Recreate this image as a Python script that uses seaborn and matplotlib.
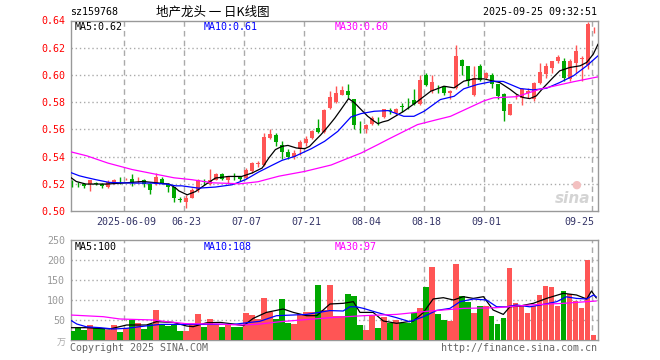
import numpy as np
import pandas as pd
import matplotlib
matplotlib.use("Agg")
import matplotlib.pyplot as plt
import seaborn as sns

# ---------------- data ----------------
dates = pd.bdate_range("2025-05-26", "2025-09-25")
dates = dates[dates != pd.Timestamp("2025-06-02")]

opens = [0.5200, 0.5197, 0.5200, 0.5200, 0.5203, 0.5200, 0.5178, 0.5203, 0.5222, 0.5234,
         0.5232, 0.5233, 0.5225, 0.5200, 0.5195, 0.5237, 0.5200, 0.5173, 0.5083, 0.5064,
         0.5099, 0.5156, 0.5218, 0.5200, 0.5230, 0.5274, 0.5230, 0.5255, 0.5254, 0.5242,
         0.5291, 0.5346, 0.5341, 0.5538, 0.5556, 0.5483, 0.5434, 0.5400, 0.5455, 0.5498,
         0.5534, 0.5607, 0.5580, 0.5759, 0.5798, 0.5856, 0.5881, 0.5820, 0.5602, 0.5605,
         0.5637, 0.5662, 0.5693, 0.5737, 0.5723, 0.5769, 0.5775, 0.5819, 0.5785, 0.6002,
         0.5879, 0.5910, 0.5909, 0.5867, 0.5904, 0.6109, 0.6064, 0.5854, 0.6064, 0.5978,
         0.5998, 0.5931, 0.5857, 0.5709, 0.5843, 0.5832, 0.5869, 0.5820, 0.5943, 0.6010,
         0.6049, 0.6099, 0.6104, 0.5968, 0.6090, 0.6114, 0.6070, 0.6328]
highs = [0.5225, 0.5210, 0.5205, 0.5230, 0.5210, 0.5205, 0.5225, 0.5232, 0.5252, 0.5245,
         0.5274, 0.5250, 0.5232, 0.5205, 0.5280, 0.5250, 0.5205, 0.5175, 0.5106, 0.5119,
         0.5168, 0.5235, 0.5237, 0.5310, 0.5280, 0.5280, 0.5260, 0.5280, 0.5260, 0.5316,
         0.5358, 0.5365, 0.5575, 0.5600, 0.5575, 0.5512, 0.5459, 0.5450, 0.5520, 0.5551,
         0.5593, 0.5673, 0.5746, 0.5881, 0.5917, 0.5917, 0.5937, 0.5824, 0.5661, 0.5637,
         0.5698, 0.5693, 0.5751, 0.5755, 0.5755, 0.5793, 0.5830, 0.5898, 0.6002, 0.6015,
         0.6002, 0.5928, 0.5916, 0.5891, 0.6217, 0.6114, 0.6069, 0.6064, 0.6077, 0.6020,
         0.6017, 0.5935, 0.5865, 0.5783, 0.5857, 0.5906, 0.5906, 0.5945, 0.6091, 0.6091,
         0.6104, 0.6148, 0.6128, 0.6116, 0.6217, 0.6138, 0.6388, 0.6350]
lows = [0.5175, 0.5175, 0.5170, 0.5150, 0.5188, 0.5170, 0.5170, 0.5195, 0.5195, 0.5225,
        0.5183, 0.5207, 0.5175, 0.5126, 0.5188, 0.5195, 0.5141, 0.5064, 0.5064, 0.5025,
        0.5094, 0.5143, 0.5188, 0.5193, 0.5225, 0.5225, 0.5200, 0.5225, 0.5217, 0.5235,
        0.5279, 0.5326, 0.5328, 0.5526, 0.5477, 0.5380, 0.5380, 0.5385, 0.5415, 0.5478,
        0.5527, 0.5576, 0.5576, 0.5751, 0.5795, 0.5849, 0.5832, 0.5600, 0.5576, 0.5576,
        0.5630, 0.5630, 0.5685, 0.5710, 0.5705, 0.5731, 0.5751, 0.5780, 0.5780, 0.5916,
        0.5867, 0.5867, 0.5854, 0.5822, 0.5896, 0.6002, 0.5916, 0.5847, 0.5953, 0.5970,
        0.5906, 0.5820, 0.5664, 0.5704, 0.5820, 0.5778, 0.5832, 0.5812, 0.5931, 0.5980,
        0.6017, 0.6091, 0.5956, 0.5956, 0.6016, 0.5954, 0.6042, 0.6306]
closes = [0.5198, 0.5195, 0.5183, 0.5225, 0.5198, 0.5183, 0.5212, 0.5227, 0.5219, 0.5238,
          0.5207, 0.5237, 0.5195, 0.5153, 0.5252, 0.5203, 0.5180, 0.5099, 0.5081, 0.5099,
          0.5156, 0.5230, 0.5216, 0.5230, 0.5274, 0.5235, 0.5254, 0.5252, 0.5235, 0.5304,
          0.5353, 0.5348, 0.5546, 0.5563, 0.5506, 0.5434, 0.5400, 0.5425, 0.5505, 0.5532,
          0.5588, 0.5580, 0.5741, 0.5837, 0.5868, 0.5888, 0.5856, 0.5632, 0.5600, 0.5629,
          0.5685, 0.5660, 0.5746, 0.5735, 0.5750, 0.5767, 0.5771, 0.5785, 0.5960, 0.5928,
          0.5946, 0.5908, 0.5867, 0.5879, 0.6138, 0.6064, 0.5953, 0.5978, 0.5965, 0.6015,
          0.5930, 0.5844, 0.5733, 0.5783, 0.5845, 0.5899, 0.5881, 0.5943, 0.6025, 0.6067,
          0.6099, 0.6133, 0.5980, 0.6104, 0.6175, 0.6126, 0.6375, 0.6331]
volumes = [22.5, 30.8, 25.0, 37.5, 30.8, 30.8, 25.0, 37.5, 20.8, 29.2,
           50.0, 42.5, 28.3, 39.0, 75.0, 40.0, 35.0, 39.0, 22.5, 22.5,
           37.5, 64.0, 33.3, 51.7, 37.5, 33.3, 39.0, 33.3, 33.3, 67.5,
           62.5, 51.7, 105.8, 69.0, 52.5, 102.5, 42.5, 41.0, 64.0, 69.0,
           69.0, 137.5, 75.0, 137.5, 60.8, 60.8, 115.0, 110.0, 37.5, 25.0,
           60.8, 30.8, 58.0, 42.5, 50.0, 42.5, 42.5, 67.5, 80.8, 133.0,
           183.0, 64.0, 50.0, 47.5, 190.0, 110.0, 94.0, 67.5, 85.0, 85.0,
           60.8, 40.0, 54.0, 181.0, 91.7, 85.0, 67.5, 85.0, 112.5, 135.0,
           131.7, 84.0, 122.5, 114.0, 97.5, 80.8, 200.0, 12.5]

# moving-average lines (position, value)
ma5_x = [-0.3, 0.7, 2.3, 5.7, 8.4, 11.8, 14.6, 16.2, 17.3, 17.8, 19.2, 20.6, 22.2, 23.9, 26.1,
         28.3, 30, 31.7, 32.8, 33.9, 35, 36, 37.4, 38.8, 39.6, 40.4, 41.5, 42.7, 43.8, 44.9,
         46.1, 47.1, 48.2, 49.3, 50.4, 51, 51.8, 52.7, 55.3, 57.6, 59.8, 62, 63.7, 65.3, 67,
         68.7, 70.3, 71.3, 73, 74.1, 75.2, 76.3, 77.4, 78.6, 80.2, 81.3, 83, 84.7, 85.8, 86.9, 87.7]
ma5_y = [0.5249, 0.5217, 0.5198, 0.5198, 0.5205, 0.5217, 0.5205, 0.5198, 0.5168, 0.5148, 0.5119,
         0.5143, 0.5193, 0.5242, 0.5254, 0.5254, 0.5279, 0.5316, 0.5389, 0.5451, 0.5475, 0.5482,
         0.5463, 0.5458, 0.5475, 0.5512, 0.5561, 0.5622, 0.5682, 0.5750, 0.5826, 0.5795, 0.5745,
         0.5696, 0.5659, 0.5642, 0.5655, 0.5665, 0.5733, 0.5806, 0.5880, 0.5917, 0.5905, 0.5954,
         0.5971, 0.5971, 0.5954, 0.5944, 0.5895, 0.5858, 0.5834, 0.5826, 0.5846, 0.5907, 0.5981,
         0.6030, 0.6055, 0.6067, 0.6092, 0.6153, 0.6227]
ma10_x = [-0.4, 1.2, 2.3, 4, 6.2, 10.1, 13.4, 15.7, 17.3, 18.3, 21.1, 23.9, 26.7, 28.9, 31.1,
          33.3, 35, 37.1, 39.9, 42.1, 44.3, 46.5, 48.2, 50.4, 52.7, 55.3, 57, 58.7, 61.4, 63.7,
          65.3, 67.6, 70.3, 71.9, 74.7, 76.9, 79.1, 81.3, 83.6, 85.8, 87.7]
ma10_y = [0.5286, 0.5259, 0.5247, 0.5230, 0.5210, 0.5205, 0.5205, 0.5198, 0.5185, 0.5185, 0.5168,
          0.5176, 0.5193, 0.5230, 0.5286, 0.5335, 0.5372, 0.5401, 0.5458, 0.5512, 0.5585, 0.5691,
          0.5716, 0.5733, 0.5738, 0.5696, 0.5696, 0.5733, 0.5819, 0.5843, 0.5898, 0.5930, 0.5954,
          0.5952, 0.5900, 0.5890, 0.5902, 0.5944, 0.5994, 0.6067, 0.6141]
ma30_x = [-0.3, 2.5, 6, 10, 14, 17, 20, 23.5, 28, 31, 34.5, 38.8, 43.2, 45.4, 48.2, 51, 52.7,
          57.6, 60.9, 63.1, 68.7, 70.3, 74.1, 78, 83.6, 87.7]
ma30_y = [0.5436, 0.5405, 0.5352, 0.5305, 0.5270, 0.5244, 0.5230, 0.5207, 0.5200, 0.5215, 0.5256,
          0.5291, 0.5338, 0.5377, 0.5426, 0.5488, 0.5527, 0.5635, 0.5672, 0.5696, 0.5810, 0.5832,
          0.5840, 0.5895, 0.5950, 0.5986]

vma5_x = [-0.3, 2.4, 6.3, 9.1, 12.4, 14.1, 16.9, 19.1, 20.2, 22.4, 24.7, 26.9, 28.6, 30.2, 32.4,
          35.2, 36.9, 39.1, 40.8, 43, 45.2, 46.9, 48, 50.2, 51.9, 54.1, 56.9, 58.6, 60.2, 61.9,
          63.6, 65.2, 66.9, 68.6, 70.2, 71.9, 73, 74.7, 76.9, 79.1, 81.9, 84.1, 85.8, 86.6, 87.4]
vma5_y = [30.8, 30.8, 27.5, 37.5, 37.5, 45.8, 44, 35, 33.3, 43, 44, 40, 35.8, 54, 69, 77.5, 69,
          60.8, 60.8, 90, 91.7, 95.8, 69, 69, 47.5, 41.7, 47.5, 69, 102.5, 105.8, 100, 108.3, 104,
          108.3, 75, 64, 83, 85, 91.7, 104, 116.7, 112.5, 102.5, 122.5, 105]
vma10_x = [-0.3, 0.8, 2.4, 4.7, 6.9, 9.1, 11.3, 14.7, 19.1, 26.9, 29.1, 31.3, 34.1, 36.9, 39.1,
           43, 45.2, 46.3, 47.4, 48.6, 50.8, 54.1, 56.3, 58.6, 60.8, 63, 64.7, 66.9, 69.1, 70.8,
           72.4, 74.1, 76.3, 78.6, 80.8, 82.4, 84.1, 85.8, 86.9, 87.4]
vma10_y = [50, 40, 33, 30.8, 27.5, 29.2, 33.3, 39, 39, 39, 43, 46.7, 60.8, 62.5, 64, 73.5, 72.5,
           83, 83, 79, 69, 55.8, 45.8, 58.3, 74, 79, 95.8, 102.5, 100, 83, 83, 87.5, 83, 89, 95.8,
           108, 104, 102.5, 112.5, 108]
vma30_x = [-0.3, 5.2, 8, 13.6, 15.8, 19.1, 24.1, 28, 30.8, 34.7, 43, 48.6, 54.1, 59.7, 65.2,
           70.8, 76.3, 81.9, 87.4]
vma30_y = [62.5, 58.3, 52.5, 50, 45.8, 40.8, 40, 37.5, 39, 45.8, 55.8, 60.8, 64, 72.5, 79, 80.8,
           87.5, 91.7, 97.5]

tick_dates = ["2025-06-09", "2025-06-23", "2025-07-07", "2025-07-21", "2025-08-04",
              "2025-08-18", "2025-09-01", "2025-09-25"]
tick_labels = ["2025-06-09", "06-23", "07-07", "07-21", "08-04", "08-18", "09-01", "09-25"]
price_ticks = [0.50, 0.52, 0.54, 0.56, 0.58, 0.60, 0.62, 0.64]
vol_ticks = [50, 100, 150, 200, 250]

# ---------------- style ----------------
sns.set_theme(style="white")
plt.rcParams["font.family"] = ["DejaVu Sans Mono", "Noto Sans CJK SC"]

RED = "#ff5555"
GREEN = "#00a800"
GRID = "#aaaaaa"
FRAME = "#999999"

W, H = 660, 360
fig = plt.figure(figsize=(6.6, 3.6), dpi=100)
fig.patch.set_facecolor("white")

def fx(px):
    return px / W

def fy(py):
    return 1 - py / H

L, R = 70.5, 597.5
axp = fig.add_axes([fx(L), fy(211), fx(R - L), (211 - 20.5) / H])
axv = fig.add_axes([fx(L), fy(340), fx(R - L), (340 - 240) / H])

df = pd.DataFrame({"date": dates, "open": opens, "high": highs, "low": lows,
                   "close": closes, "volume": volumes})
df["x"] = np.arange(len(df))
df["dir"] = np.where(df["close"] >= df["open"], "up", "down")
colors = np.where(df["dir"] == "up", RED, GREEN)

# candles
axp.vlines(df["x"], df["low"], df["high"], colors=colors, lw=1.0, zorder=3)
body_lo = np.minimum(df["open"], df["close"])
body_h = np.maximum(np.abs(df["close"] - df["open"]), 0.0004)
axp.bar(df["x"], body_h, bottom=body_lo, width=0.8, color=colors, lw=0, zorder=4)

sns.lineplot(x=ma5_x, y=ma5_y, ax=axp, color="black", lw=0.9, zorder=5)
sns.lineplot(x=ma10_x, y=ma10_y, ax=axp, color="#0000ff", lw=0.9, zorder=5)
sns.lineplot(x=ma30_x, y=ma30_y, ax=axp, color="#ff00ff", lw=0.9, zorder=5)

# volume
axv.bar(df["x"], df["volume"], width=0.86, color=colors, lw=0, zorder=3)
sns.lineplot(x=vma5_x, y=vma5_y, ax=axv, color="black", lw=0.9, zorder=5)
sns.lineplot(x=vma10_x, y=vma10_y, ax=axv, color="#0000ff", lw=0.9, zorder=5)
sns.lineplot(x=vma30_x, y=vma30_y, ax=axv, color="#ff00ff", lw=0.9, zorder=5)

tick_idx = [int(np.where(df["date"] == pd.Timestamp(d))[0][0]) for d in tick_dates]
xlim = (-0.25, 87.6)

for ax in (axp, axv):
    ax.set_xlim(*xlim)
    ax.set_xlabel("")
    ax.set_ylabel("")
    ax.set_xticks(tick_idx)
    ax.grid(False)
    for t in tick_idx:
        ax.axvline(t - 0.25, color=GRID, lw=1.0, ls=(0, (4, 3)), zorder=1)
    for s in ax.spines.values():
        s.set_visible(True)
        s.set_color(FRAME)
        s.set_linewidth(1.0)
    ax.tick_params(length=0)
    ax.set_facecolor("white")

axp.set_ylim(0.50, 0.64)
axp.set_yticks(price_ticks)
axp.set_yticklabels([f"{v:.2f}" for v in price_ticks], color="#ff0000", fontsize=7.2)
for v in price_ticks[1:-1]:
    axp.axhline(v, color=GRID, lw=1.0, ls=(0, (1, 2)), zorder=1)
axp.tick_params(axis="y", pad=4)
axp.set_xticklabels(tick_labels, fontsize=7.2, color="#333366")
axp.tick_params(axis="x", pad=4)
lbls = axp.get_xticklabels()
lbls[-1].set_horizontalalignment("right")

axv.set_ylim(0, 250)
axv.set_yticks(vol_ticks)
axv.set_yticklabels([str(v) for v in vol_ticks], color="#999999", fontsize=7.2)
for v in vol_ticks[:-1]:
    axv.axhline(v, color=GRID, lw=1.0, ls=(0, (1, 2)), zorder=1)
axv.tick_params(axis="y", pad=4)
axv.set_xticklabels([])

# texts
fs = 7.2
fig.text(fx(70), fy(12), "sz159768", fontsize=fs, va="center", ha="left", color="black")
fig.text(fx(213), fy(12), "地产龙头 一 日K线图", fontsize=9, va="center", ha="center",
         color="black", family=["Noto Sans CJK SC", "DejaVu Sans"])
fig.text(fx(597), fy(12), "2025-09-25 09:32:51", fontsize=fs, va="center", ha="right",
         color="black")
fig.text(fx(75), fy(27), "MA5:0.62", fontsize=fs, va="center", color="black")
fig.text(fx(204), fy(27), "MA10:0.61", fontsize=fs, va="center", color="#0000ff")
fig.text(fx(335), fy(27), "MA30:0.60", fontsize=fs, va="center", color="#ff00ff")
fig.text(fx(75), fy(247), "MA5:100", fontsize=fs, va="center", color="black")
fig.text(fx(204), fy(247), "MA10:108", fontsize=fs, va="center", color="#0000ff")
fig.text(fx(335), fy(247), "MA30:97", fontsize=fs, va="center", color="#ff00ff")
fig.text(fx(66), fy(343), "万", fontsize=6.5, va="center", ha="right", color="#aaaaaa",
         family=["Noto Sans CJK SC", "DejaVu Sans"])
fig.text(fx(70), fy(348), "Copyright 2025 SINA.COM", fontsize=fs, va="center", ha="left",
         color="#666666")
fig.text(fx(597), fy(348), "http://finance.sina.com.cn", fontsize=fs, va="center",
         ha="right", color="#666666")
# watermark
fig.text(fx(573), fy(198), "sina", fontsize=11, va="center", ha="center", color="#d0d0d0",
         style="italic", weight="bold", family="DejaVu Sans", alpha=0.9)
fig.text(fx(576), fy(185), "●", fontsize=8, va="center", ha="center", color="#f3c0c0",
         family="DejaVu Sans")

fig.savefig("out.png", dpi=100, facecolor="white")
